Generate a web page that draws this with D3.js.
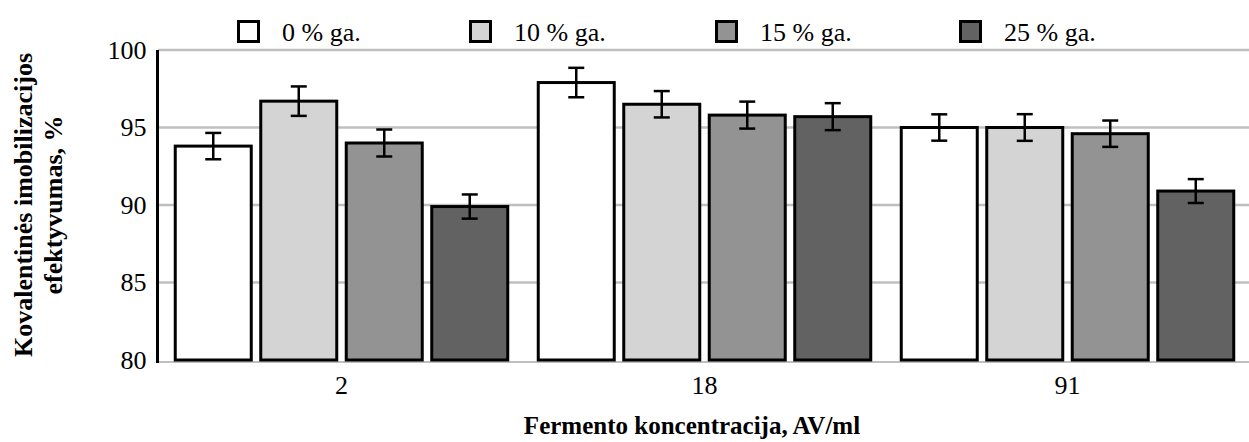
<!DOCTYPE html>
<meta charset="utf-8">
<script src="https://d3js.org/d3.v7.min.js"></script>
<style>
  body { margin: 0; background: #fff; }
  svg text { font-family: "Liberation Serif", "DejaVu Serif", serif !important; fill: #000; }
</style>
<div id="my_dataviz"></div>
<script>

// categories and series
var groups = ["2", "18", "91"];
var series = ["0 % ga.", "10 % ga.", "15 % ga.", "25 % ga."];
var colors = ["#ffffff", "#d4d4d4", "#939393", "#626262"];

// values per series (one entry per group)
var values = [
  [93.8, 97.9, 95.0],
  [96.7, 96.5, 95.0],
  [94.0, 95.8, 94.6],
  [89.9, 95.7, 90.9]
];
// error bar half widths
var errors = [
  [0.85, 0.95, 0.85],
  [0.95, 0.85, 0.86],
  [0.87, 0.87, 0.85],
  [0.78, 0.87, 0.77]
];

var yTicks = [80, 85, 90, 95, 100];

var width = 1249, height = 442;
var margin = {top: 50, right: 0, bottom: 82, left: 160};

var svg = d3.select("#my_dataviz")
  .append("svg")
    .attr("width", width)
    .attr("height", height);

var x0 = d3.scaleBand()
  .domain(groups)
  .range([margin.left, width - margin.right]);

var x1 = d3.scaleBand()
  .domain(d3.range(series.length))
  .range([15.25, x0.bandwidth() - 15.25])
  .paddingInner(0.111);

var y = d3.scaleLinear()
  .domain([80, 100])
  .range([height - margin.bottom, margin.top]);

// gridlines
svg.append("g")
  .selectAll("line")
  .data(yTicks.filter(function(d) { return d > 80; }))
  .enter().append("line")
    .attr("x1", margin.left - 2)
    .attr("x2", width)
    .attr("y1", function(d) { return y(d); })
    .attr("y2", function(d) { return y(d); })
    .attr("stroke", "#bfbfbf")
    .attr("stroke-width", 2.5);

// x axis line
svg.append("line")
  .attr("x1", margin.left - 3)
  .attr("x2", width)
  .attr("y1", y(80) + 2)
  .attr("y2", y(80) + 2)
  .attr("stroke", "#bfbfbf")
  .attr("stroke-width", 2);

// y axis
var yAxis = svg.append("g")
  .attr("transform", "translate(" + (margin.left - 2.5) + ",0)")
  .call(d3.axisLeft(y).tickValues(yTicks).tickSize(0).tickPadding(11));
yAxis.attr("font-family", null).attr("font-size", 26);
yAxis.select(".domain")
  .attr("stroke", "#000")
  .attr("stroke-width", 3)
  .attr("d", "M0," + y(100) + "V" + (y(80) + 3));
yAxis.selectAll("text").attr("fill", "#000");

// x axis labels
var xAxis = svg.append("g")
  .attr("transform", "translate(0," + (y(80) + 2) + ")")
  .call(d3.axisBottom(x0).tickSize(0).tickPadding(14));
xAxis.attr("font-family", null).attr("font-size", 26);
xAxis.select(".domain").remove();
xAxis.selectAll("text").attr("fill", "#000");

// bars
var rows = [];
series.forEach(function(s, i) {
  groups.forEach(function(g, j) {
    rows.push({s: i, g: g, value: values[i][j], err: errors[i][j]});
  });
});

svg.append("g")
  .selectAll("rect")
  .data(rows)
  .enter().append("rect")
    .attr("x", function(d) { return x0(d.g) + x1(d.s); })
    .attr("y", function(d) { return y(d.value); })
    .attr("width", x1.bandwidth())
    .attr("height", function(d) { return y(80) - y(d.value); })
    .attr("fill", function(d) { return colors[d.s]; })
    .attr("stroke", "#000")
    .attr("stroke-width", 3);

// error bars
var eb = svg.append("g")
  .selectAll("g")
  .data(rows)
  .enter().append("g")
    .attr("transform", function(d) { return "translate(" + (x0(d.g) + x1(d.s) + x1.bandwidth() / 2) + ",0)"; })
    .attr("stroke", "#000")
    .attr("stroke-width", 2.5);
eb.append("line")
  .attr("y1", function(d) { return y(d.value + d.err); })
  .attr("y2", function(d) { return y(d.value - d.err); });
eb.append("line")
  .attr("x1", -8).attr("x2", 8)
  .attr("y1", function(d) { return y(d.value + d.err); })
  .attr("y2", function(d) { return y(d.value + d.err); });
eb.append("line")
  .attr("x1", -8).attr("x2", 8)
  .attr("y1", function(d) { return y(d.value - d.err); })
  .attr("y2", function(d) { return y(d.value - d.err); });

// legend
var legendX = [237, 469, 715, 959];
var lg = svg.append("g")
  .selectAll("g")
  .data(series)
  .enter().append("g")
    .attr("transform", function(d, i) { return "translate(" + legendX[i] + ",20)"; });
lg.append("rect")
  .attr("x", 1.5).attr("y", 1.5)
  .attr("width", 20).attr("height", 20)
  .attr("fill", function(d, i) { return colors[i]; })
  .attr("stroke", "#000")
  .attr("stroke-width", 3);
lg.append("text")
  .attr("x", 45)
  .attr("y", 21)
  .style("font-size", "26px")
  .text(function(d) { return d; });

// axis titles
svg.append("text")
  .attr("x", 692)
  .attr("y", 434)
  .attr("text-anchor", "middle")
  .style("font-size", "25px")
  .style("font-weight", "bold")
  .text("Fermento koncentracija, AV/ml");

var yt = svg.append("text")
  .attr("transform", "translate(0," + ((y(80) + y(100)) / 2) + ") rotate(-90)")
  .attr("text-anchor", "middle")
  .style("font-size", "26px")
  .style("font-weight", "bold");
yt.append("tspan").attr("x", 0).attr("y", 32).text("Kovalentinės imobilizacijos");
yt.append("tspan").attr("x", 0).attr("y", 62).text("efektyvumas, %");

</script>
